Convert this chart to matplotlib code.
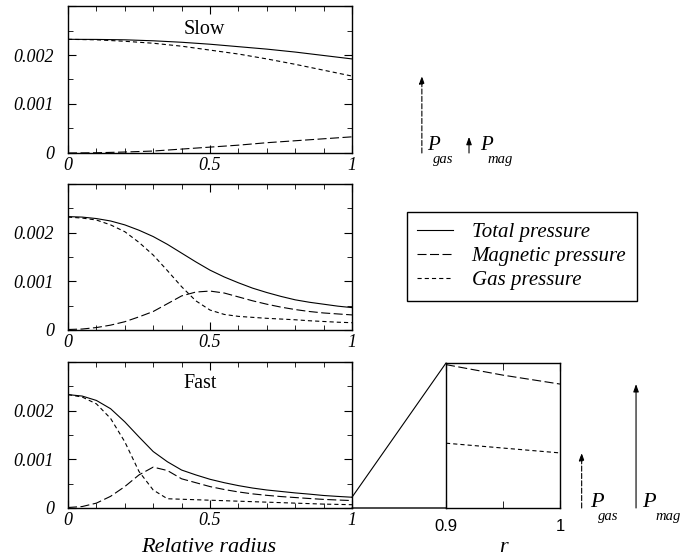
"""
plot.py
Total, magnetic and gas pressure against relative radius, slow and fast cases.
"""
import numpy as np
import matplotlib
matplotlib.use("Agg")
import matplotlib.pyplot as plt
from matplotlib.patches import ConnectionPatch
from matplotlib.ticker import FixedLocator, MultipleLocator
from matplotlib.transforms import blended_transform_factory

plt.rcParams["font.family"] = ["Liberation Serif", "DejaVu Serif"]
plt.rcParams["lines.scale_dashes"] = False
plt.rcParams["axes.linewidth"] = 1.0

# ---- data (pressures in units of 1e-3) ----
r_slow = [0.0, 0.1, 0.2, 0.3, 0.4, 0.5, 0.6, 0.7, 0.8, 0.9, 1.0]
total_slow = [2.32, 2.318, 2.31, 2.29, 2.26, 2.22, 2.17, 2.12, 2.06, 1.99, 1.92]
mag_slow = [0.0, 0.005, 0.02, 0.04, 0.08, 0.12, 0.16, 0.21, 0.25, 0.29, 0.33]
gas_slow = [2.32, 2.31, 2.28, 2.24, 2.18, 2.10, 2.02, 1.92, 1.81, 1.69, 1.57]

r_fine = [0.0, 0.05, 0.1, 0.15, 0.2, 0.25, 0.3, 0.35, 0.4, 0.45, 0.5,
          0.55, 0.6, 0.65, 0.7, 0.75, 0.8, 0.85, 0.9, 0.95, 1.0]

total_mid = [2.33, 2.32, 2.29, 2.24, 2.16, 2.05, 1.92, 1.76, 1.58, 1.40, 1.23,
             1.09, 0.97, 0.86, 0.77, 0.69, 0.62, 0.57, 0.53, 0.49, 0.46]
mag_mid = [0.01, 0.02, 0.05, 0.10, 0.17, 0.27, 0.38, 0.54, 0.70, 0.78, 0.80,
           0.76, 0.68, 0.60, 0.53, 0.47, 0.42, 0.38, 0.35, 0.33, 0.31]
gas_mid = [2.32, 2.30, 2.26, 2.16, 2.02, 1.80, 1.54, 1.22, 0.89, 0.60, 0.41,
           0.32, 0.28, 0.26, 0.24, 0.225, 0.21, 0.19, 0.175, 0.16, 0.15]

total_fast = [2.33, 2.30, 2.21, 2.04, 1.77, 1.46, 1.16, 0.95, 0.78, 0.68, 0.59,
              0.52, 0.46, 0.41, 0.37, 0.34, 0.31, 0.285, 0.257, 0.238, 0.221]
mag_fast = [0.01, 0.03, 0.10, 0.24, 0.44, 0.68, 0.84, 0.77, 0.60, 0.52, 0.44,
            0.38, 0.33, 0.29, 0.26, 0.235, 0.215, 0.195, 0.177, 0.164, 0.153]
gas_fast = [2.33, 2.28, 2.14, 1.84, 1.36, 0.75, 0.37, 0.19, 0.18, 0.17, 0.16,
            0.15, 0.14, 0.13, 0.12, 0.11, 0.10, 0.09, 0.08, 0.074, 0.068]

zoom_top = 0.179  # upper limit of the zoomed r in [0.9, 1] panel

labels = ["Total pressure", "Magnetic pressure", "Gas pressure"]

LONG = (0, (6.5, 2.5))
SHORT = (0, (3.0, 2.2))
LW = 0.8


def style_panel(ax):
    ax.set_xlim(0, 1)
    ax.set_ylim(0, 0.003)
    ax.xaxis.set_major_locator(FixedLocator([0, 0.5, 1]))
    ax.xaxis.set_minor_locator(MultipleLocator(0.1))
    ax.yaxis.set_major_locator(FixedLocator([0, 0.001, 0.002, 0.003]))
    ax.yaxis.set_minor_locator(MultipleLocator(0.0005))
    ax.set_xticklabels(["0", "0.5", "1"], style="italic", fontsize=13)
    ax.set_yticklabels(["0", "0.001", "0.002", ""], style="italic", fontsize=13)
    ax.tick_params(which="both", direction="in", top=True, right=True)
    ax.tick_params(axis="x", pad=3)
    ax.tick_params(axis="y", pad=10)
    ax.tick_params(which="major", length=6)
    ax.tick_params(which="minor", length=3.5)


def draw_curves(ax, r, total, mag, gas):
    r = np.array(r)
    a, = ax.plot(r, np.array(total) * 1e-3, color="k", lw=LW)
    b, = ax.plot(r, np.array(mag) * 1e-3, color="k", lw=LW, linestyle=LONG)
    c, = ax.plot(r, np.array(gas) * 1e-3, color="k", lw=LW, linestyle=SHORT)
    return [a, b, c]


fig = plt.figure(figsize=(6.97, 5.60), dpi=100)
W, H = 697.0, 560.0

ax1 = fig.add_axes([68 / W, 1 - 153 / H, 284 / W, 147 / H])
ax2 = fig.add_axes([68 / W, 1 - 330 / H, 284 / W, 146 / H])
ax3 = fig.add_axes([68 / W, 1 - 508 / H, 284 / W, 146 / H])
axz = fig.add_axes([446 / W, 1 - 508 / H, 114 / W, 145 / H])

handles = draw_curves(ax1, r_slow, total_slow, mag_slow, gas_slow)
draw_curves(ax2, r_fine, total_mid, mag_mid, gas_mid)
draw_curves(ax3, r_fine, total_fast, mag_fast, gas_fast)
for ax in (ax1, ax2, ax3):
    style_panel(ax)

ax1.text(0.48, 0.84, "Slow", transform=ax1.transAxes, ha="center", va="center", fontsize=14.5)
ax3.text(0.465, 0.85, "Fast", transform=ax3.transAxes, ha="center", va="center", fontsize=14.5)

# zoomed outer edge of the fast case (r from 0.9 to 1), y in units of 1e-3
rz = np.array(r_fine)
keep = rz >= 0.9 - 1e-9
axz.plot(rz[keep], np.array(total_fast)[keep], color="k", lw=LW)
axz.plot(rz[keep], np.array(mag_fast)[keep], color="k", lw=LW, linestyle=LONG)
axz.plot(rz[keep], np.array(gas_fast)[keep], color="k", lw=LW, linestyle=SHORT)
axz.set_xlim(0.9, 1.0)
axz.set_ylim(0, zoom_top)
axz.set_xticks([0.9, 1.0])
axz.set_xticklabels(["0.9", "1"], family="Liberation Sans", fontsize=12)
axz.xaxis.set_minor_locator(FixedLocator([0.95]))
axz.set_yticks([])
axz.tick_params(which="both", direction="in", top=True, pad=8)
axz.tick_params(which="major", length=6)
axz.tick_params(which="minor", length=5)

# connector from the fast panel to the zoomed panel
fig.add_artist(ConnectionPatch(xyA=(1, 0), coordsA=ax3.transAxes,
                               xyB=(0, 0), coordsB=axz.transAxes, color="k", lw=1.0))
fig.add_artist(ConnectionPatch(xyA=(r_fine[-1], total_fast[-1] * 1e-3), coordsA=ax3.transData,
                               xyB=(0, 1), coordsB=axz.transAxes, color="k", lw=LW))


def pressure_arrow(ax, xfrac, value, dashed):
    trans = blended_transform_factory(ax.transAxes, ax.transData)
    ax.annotate("", xy=(xfrac, value), xytext=(xfrac, 0), xycoords=trans, textcoords=trans,
                annotation_clip=False,
                arrowprops=dict(arrowstyle="-|>,head_length=0.45,head_width=0.16",
                                color="k", lw=LW, linestyle="--" if dashed else "-",
                                shrinkA=0, shrinkB=0))
    return trans


def pressure_label(ax, trans, xfrac, sub, dx_p, dx_s, dy_p, dy_s, size_p):
    ax.annotate("P", xy=(xfrac, 0), xycoords=trans, xytext=(dx_p, dy_p),
                textcoords="offset points", style="italic", fontsize=size_p,
                va="baseline", annotation_clip=False)
    ax.annotate(sub, xy=(xfrac, 0), xycoords=trans, xytext=(dx_s, dy_s),
                textcoords="offset points", style="italic", fontsize=10.5,
                va="baseline", annotation_clip=False)


# arrows showing the pressures at r = 1 for the slow case
t = pressure_arrow(ax1, 1.246, gas_slow[-1] * 1e-3, True)
pressure_label(ax1, t, 1.246, "gas", 3.6, 8.0, 2.5, -7.0, 15)
t = pressure_arrow(ax1, 1.412, mag_slow[-1] * 1e-3, False)
pressure_label(ax1, t, 1.412, "mag", 7.9, 13.3, 2.5, -7.0, 15)

# arrows for the fast case, on the zoomed scale
t = pressure_arrow(axz, 1.19, gas_fast[-1], True)
pressure_label(axz, t, 1.19, "gas", 5.8, 11.5, 1.0, -8.5, 16)
t = pressure_arrow(axz, 1.667, mag_fast[-1], False)
pressure_label(axz, t, 1.667, "mag", 4.3, 13.7, 1.0, -8.5, 16)

leg = fig.legend(handles, labels, loc="upper left", bbox_to_anchor=(407 / W, 1 - 212 / H),
                 frameon=True, fancybox=False, edgecolor="k", framealpha=1,
                 prop=dict(style="italic", size=15), handlelength=1.7,
                 handletextpad=0.9, labelspacing=0.22, borderpad=0.5, borderaxespad=0)
leg.get_frame().set_linewidth(1.0)

fig.text(209 / W, 1 - 547 / H, "Relative radius", style="italic", fontsize=16,
         ha="center", va="center")
fig.text(503 / W, 1 - 548 / H, "r", style="italic", fontsize=16, ha="center", va="center")

fig.savefig("out.png", dpi=100)
